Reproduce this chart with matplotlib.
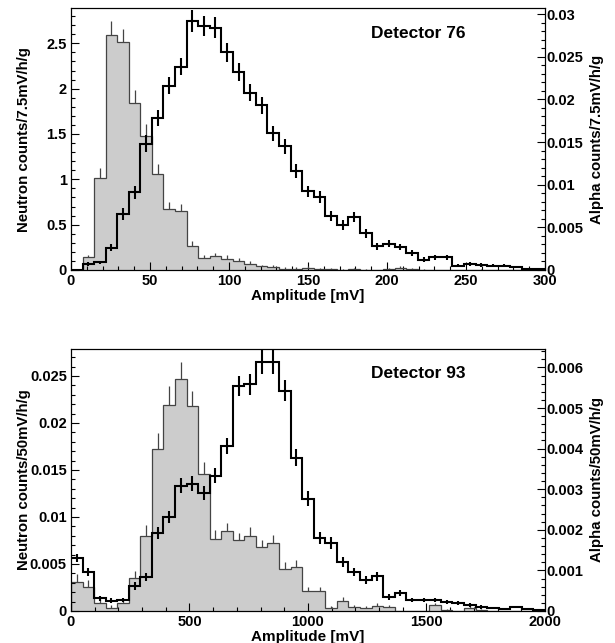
import numpy as np
import matplotlib
matplotlib.use("Agg")
import matplotlib.pyplot as plt
from matplotlib.ticker import MultipleLocator, FormatStrFormatter

plt.rcParams['font.family'] = ['Liberation Sans', 'DejaVu Sans']
plt.rcParams['font.weight'] = 'bold'

# detector 76: 41 bins over 0-300 mV
d76_range = (0, 300)
d76_neutron = [0, 0.14, 1.02, 2.59, 2.51, 1.84, 1.48, 1.06, 0.67, 0.65, 0.27,
               0.13, 0.15, 0.12, 0.10, 0.07, 0.04, 0.03, 0.01, 0.01, 0.02,
               0.01, 0.01, 0.005, 0.01, 0.005, 0.0, 0.01, 0.02, 0.01, 0.005,
               0.0, 0.0, 0.0, 0.0, 0.005, 0.0, 0.0, 0.0, 0.0, 0.0]
d76_neutron_err = [0, 0.03, 0.10, 0.16, 0.15, 0.15, 0.13, 0.11, 0.08, 0.08, 0.05,
                   0.04, 0.04, 0.04, 0.03, 0.03, 0.02, 0.02, 0.02, 0.02, 0.02,
                   0.01, 0.01, 0.01, 0.01, 0.01, 0.0, 0.01, 0.02, 0.01, 0.01,
                   0.0, 0.0, 0.0, 0.0, 0.01, 0.0, 0.0, 0.0, 0.0, 0.0]
d76_alpha = [0, 0.0007, 0.0009, 0.0026, 0.0066, 0.0091, 0.0148, 0.0178, 0.0216, 0.0238,
             0.0292, 0.0286, 0.0284, 0.0255, 0.0232, 0.0208, 0.0193, 0.0160, 0.0145,
             0.0116, 0.0092, 0.0086, 0.0063, 0.0053, 0.0062, 0.0043, 0.0028, 0.0031,
             0.0027, 0.0020, 0.0012, 0.0015, 0.0015, 0.0005, 0.0007, 0.0006, 0.0005,
             0.0005, 0.0003, 0.0001, 0.0001]
d76_alpha_err = [0, 0.0002, 0.0002, 0.0004, 0.0007, 0.0008, 0.0010, 0.0009, 0.0010, 0.0010,
                 0.0013, 0.0012, 0.0012, 0.0011, 0.0011, 0.0010, 0.0010, 0.0009, 0.0009,
                 0.0008, 0.0007, 0.0007, 0.0006, 0.0006, 0.0006, 0.0005, 0.0004, 0.0004,
                 0.0004, 0.0004, 0.0003, 0.0003, 0.0003, 0.0002, 0.0002, 0.0002, 0.0002,
                 0.0002, 0.0001, 0.0001, 0.0001]

# detector 93: 41 bins over 0-2000 mV
d93_range = (0, 2000)
d93_neutron = [0.0031, 0.0026, 0.0009, 0.0003, 0.0008, 0.0035, 0.0080, 0.0172, 0.0219,
               0.0247, 0.0218, 0.0146, 0.0077, 0.0085, 0.0075, 0.0080, 0.0068, 0.0072,
               0.0045, 0.0047, 0.0021, 0.0021, 0.0003, 0.0011, 0.0004, 0.0003, 0.0005,
               0.0004, 0.0, 0.0, 0.0, 0.0006, 0.0001, 0.0, 0.0003, 0.0001, 0.0, 0.0,
               0.0, 0.0, 0.0]
d93_neutron_err = [0.0008, 0.0007, 0.0004, 0.0003, 0.0004, 0.0008, 0.0012, 0.0017, 0.0020,
                   0.0018, 0.0016, 0.0012, 0.0009, 0.0009, 0.0008, 0.0009, 0.0008, 0.0009,
                   0.0007, 0.0007, 0.0005, 0.0005, 0.0002, 0.0004, 0.0002, 0.0002, 0.0003,
                   0.0002, 0.0, 0.0, 0.0, 0.0003, 0.0001, 0.0, 0.0002, 0.0001, 0.0, 0.0,
                   0.0, 0.0, 0.0]
d93_alpha = [0.00131, 0.00095, 0.00031, 0.00025, 0.00027, 0.00062, 0.00083, 0.00193,
             0.00232, 0.00309, 0.00314, 0.00291, 0.00333, 0.00406, 0.00555, 0.00558,
             0.00614, 0.00614, 0.00543, 0.00378, 0.00277, 0.00180, 0.00167, 0.00121,
             0.00097, 0.00076, 0.00085, 0.00035, 0.00045, 0.00027, 0.00027, 0.00026,
             0.00023, 0.00020, 0.00015, 0.00010, 0.00008, 0.00005, 0.00010, 0.00004,
             0.00002]
d93_alpha_err = [0.00010, 0.00010, 0.00006, 0.00006, 0.00006, 0.00010, 0.00010, 0.00015,
                 0.00015, 0.00018, 0.00018, 0.00017, 0.00018, 0.00020, 0.00025, 0.00025,
                 0.00030, 0.00030, 0.00025, 0.00020, 0.00018, 0.00015, 0.00015, 0.00012,
                 0.00010, 0.00010, 0.00010, 0.00007, 0.00007, 0.00006, 0.00006, 0.00005,
                 0.00005, 0.00005, 0.00004, 0.00004, 0.00003, 0.00003, 0.00003, 0.00002,
                 0.00002]

panels = [
    dict(rng=d76_range, neu=d76_neutron, neu_err=d76_neutron_err,
         alp=d76_alpha, alp_err=d76_alpha_err, name="Detector 76", unit="7.5mV",
         ylim=2.886, ylim2=0.03067, ymaj=0.5, ymin=0.1, ymaj2=0.005, ymin2=0.001,
         xmaj=50, xmin=10, rect=[0.1154, 0.5801, 0.7707, 0.4070]),
    dict(rng=d93_range, neu=d93_neutron, neu_err=d93_neutron_err,
         alp=d93_alpha, alp_err=d93_alpha_err, name="Detector 93", unit="50mV",
         ylim=0.02787, ylim2=0.006453, ymaj=0.005, ymin=0.001, ymaj2=0.001, ymin2=0.0002,
         xmaj=500, xmin=100, rect=[0.1154, 0.0498, 0.7707, 0.4074]),
]

fig = plt.figure(figsize=(6.15, 6.43), dpi=100)

for p in panels:
    neu = np.array(p["neu"])
    alp = np.array(p["alp"])
    edges = np.linspace(p["rng"][0], p["rng"][1], len(neu) + 1)
    centers = 0.5 * (edges[:-1] + edges[1:])

    ax = fig.add_axes(p["rect"])
    ax.stairs(neu, edges, fill=True, color="#cccccc", zorder=1)
    ax.stairs(neu, edges, color="#444444", linewidth=0.9, zorder=2)
    ax.vlines(centers, neu, neu + np.array(p["neu_err"]), color="#444444",
              linewidth=0.9, zorder=2)
    ax.set_xlim(*p["rng"])
    ax.set_ylim(0, p["ylim"])

    ax2 = ax.twinx()
    ax2.stairs(alp, edges, color="black", linewidth=1.5, baseline=None)
    err = np.array(p["alp_err"])
    ax2.vlines(centers, alp - err, alp + err, color="black", linewidth=1.5)
    ax2.set_ylim(0, p["ylim2"])

    ax.xaxis.set_major_locator(MultipleLocator(p["xmaj"]))
    ax.xaxis.set_minor_locator(MultipleLocator(p["xmin"]))
    ax.xaxis.set_major_formatter(FormatStrFormatter("%g"))
    ax.yaxis.set_major_locator(MultipleLocator(p["ymaj"]))
    ax.yaxis.set_minor_locator(MultipleLocator(p["ymin"]))
    ax.yaxis.set_major_formatter(FormatStrFormatter("%g"))
    ax2.yaxis.set_major_locator(MultipleLocator(p["ymaj2"]))
    ax2.yaxis.set_minor_locator(MultipleLocator(p["ymin2"]))
    ax2.yaxis.set_major_formatter(FormatStrFormatter("%g"))

    ax.tick_params(axis="both", which="both", direction="in", top=False, right=False,
                   labelsize=10.5, width=0.8)
    ax.tick_params(axis="y", which="major", length=6, pad=3)
    ax.tick_params(axis="y", which="minor", length=3)
    ax.tick_params(axis="x", which="major", length=6, pad=3)
    ax.tick_params(axis="x", which="minor", length=3)
    ax2.tick_params(axis="y", which="both", direction="in", labelsize=10.5, width=0.8, pad=1)
    ax2.tick_params(axis="y", which="major", length=6)
    ax2.tick_params(axis="y", which="minor", length=3)
    for a in (ax, ax2):
        for lab in a.get_xticklabels() + a.get_yticklabels():
            lab.set_fontweight("bold")
        for s in a.spines.values():
            s.set_linewidth(0.8)

    # like the original, the zero labels on y sit just above the x axis
    ax.yaxis.get_major_ticks()[0].label1.set_va("bottom")
    ax2.yaxis.get_major_ticks()[0].label2.set_va("bottom")

    ax.set_xlabel("Amplitude [mV]", fontsize=11, fontweight="bold")
    ax.xaxis.set_label_coords(0.5, -0.072)
    ax.set_ylabel("Neutron counts/%s/h/g" % p["unit"], fontsize=10.8, fontweight="bold")
    ax.yaxis.set_label_coords(-0.085, 0.5)
    ax2.set_ylabel("Alpha counts/%s/h/g" % p["unit"], fontsize=10.8, fontweight="bold")
    ax2.yaxis.set_label_coords(1.095, 0.5)
    ax.text(0.732, 0.905, p["name"], transform=ax.transAxes, fontsize=12.5,
            fontweight="bold", ha="center", va="center")

fig.savefig("out.png", dpi=100)
